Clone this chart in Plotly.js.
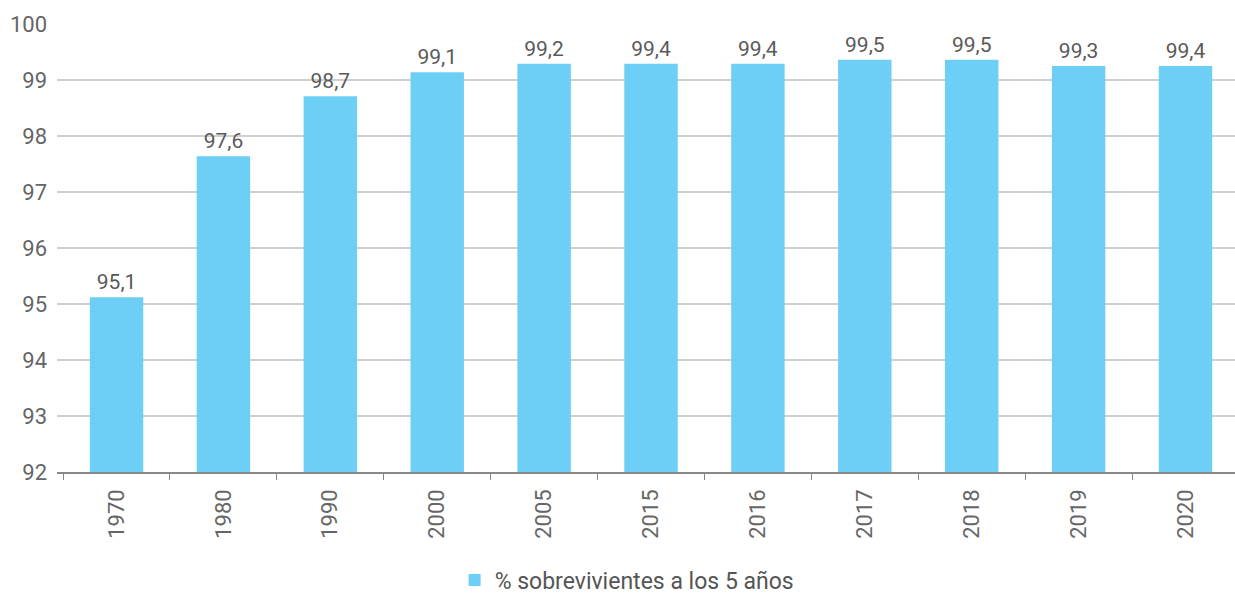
<!DOCTYPE html>
<html>
<head>
<meta charset="utf-8">
<script src="https://cdn.plot.ly/plotly-3.0.1.min.js"></script>
<style>html,body{margin:0;padding:0;background:#fff;}#chart{width:1235px;height:598px;}</style>
</head>
<body>
<div id="chart"></div>
<script>
const years = ['1970','1980','1990','2000','2005','2015','2016','2017','2018','2019','2020'];
const survival = [95.12, 97.64, 98.71, 99.14, 99.29, 99.29, 99.29, 99.36, 99.36, 99.25, 99.25];
const valueLabels = ['95,1','97,6','98,7','99,1','99,2','99,4','99,4','99,5','99,5','99,3','99,4'];
const yTicks = [92, 93, 94, 95, 96, 97, 98, 99, 100];
const seriesName = '% sobrevivientes a los 5 años';

const trace = {
  type: 'bar',
  x: years,
  y: survival,
  name: seriesName,
  text: valueLabels,
  textposition: 'outside',
  cliponaxis: false,
  textfont: {family: 'Roboto, sans-serif', size: 21, color: '#5a5a5a'},
  marker: {color: '#6DCFF6'},
  hoverinfo: 'x+y'
};

const layout = {
  width: 1235, height: 598,
  margin: {l: 57, r: 0, t: 24, b: 126, autoexpand: false},
  paper_bgcolor: '#fff', plot_bgcolor: '#fff',
  font: {family: 'Roboto, sans-serif', color: '#666'},
  bargap: 0.5,
  showlegend: true,
  legend: {
    orientation: 'h', x: 0.484, xanchor: 'center', y: -0.193, yanchor: 'top',
    font: {family: 'Roboto, sans-serif', size: 23, color: '#555'}
  },
  xaxis: {
    type: 'category',
    range: [-0.557, 10.463],
    tickangle: -90,
    automargin: false,
    tickfont: {family: 'Roboto, sans-serif', size: 22, color: '#666'},
    ticks: 'outside', tickson: 'boundaries', ticklen: 6, tickcolor: '#888',
    showline: true, linecolor: '#888', linewidth: 1.5,
    showgrid: false, ticklabelstandoff: 7
  },
  yaxis: {
    range: [92, 100],
    automargin: false,
    tickvals: yTicks,
    ticktext: yTicks.map(String),
    tickfont: {family: 'Roboto, sans-serif', size: 22, color: '#666'},
    showgrid: true, gridcolor: '#cfcfcf', gridwidth: 1.5,
    zeroline: false, showline: false,
    ticks: '', ticklabelstandoff: 9
  }
};

Plotly.newPlot('chart', [trace], layout, {displayModeBar: false, staticPlot: true});
</script>
</body>
</html>
